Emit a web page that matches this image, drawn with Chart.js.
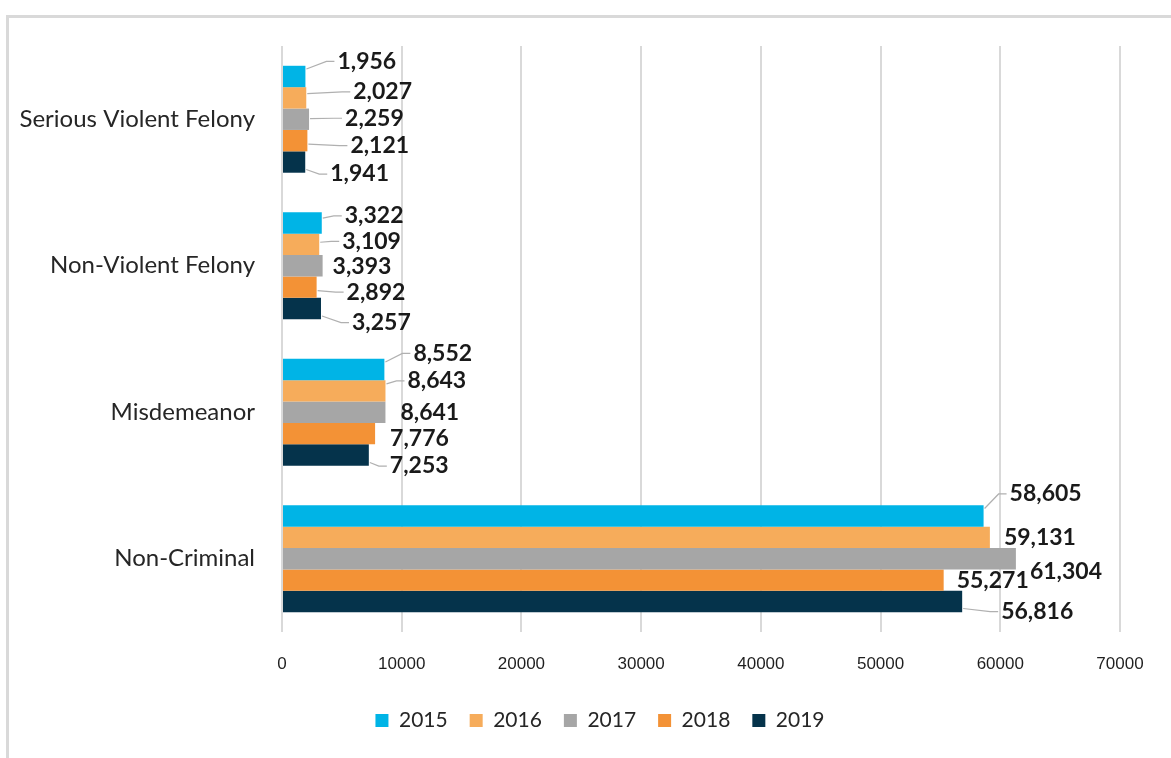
<!DOCTYPE html>
<html lang="en">
<head>
    <meta charset="UTF-8" />
    <title>Offenses by Type, 2015-2019</title>
    <style>
        html, body {
            margin: 0;
            padding: 0;
            background: #ffffff;
        }
        #chart-container {
            width: 1171px;
            height: 758px;
        }
    </style>
    <script src="https://cdn.jsdelivr.net/npm/chart.js"></script>
</head>
<body>
<div id="chart-container">
    <canvas id="offenseChart" width="1171" height="758"></canvas>
</div>

<script>
  const categories = ["Serious Violent Felony", "Non-Violent Felony", "Misdemeanor", "Non-Criminal"];
  const years = ["2015", "2016", "2017", "2018", "2019"];
  const values2015 = [1956, 3322, 8552, 58605];
  const values2016 = [2027, 3109, 8643, 59131];
  const values2017 = [2259, 3393, 8641, 61304];
  const values2018 = [2121, 2892, 7776, 55271];
  const values2019 = [1941, 3257, 7253, 56816];
  const xTicks = [0, 10000, 20000, 30000, 40000, 50000, 60000, 70000];

  const seriesValues = [values2015, values2016, values2017, values2018, values2019];
  const colors = ["#00B4E6", "#F6AC5B", "#A6A6A6", "#F39236", "#05334B"];

  // label nudges [dx, dy] per series / category, like the hand-placed labels in the original
  const labelNudge = [
    [[32, -15], [23, -7], [29, -16], [26, -22]],
    [[47, -6], [23, -3], [22, -10], [14, 0]],
    [[36, -1], [10, 1], [15, 0], [14, 13]],
    [[43, 5], [30, 5], [15, 5], [13, 0]],
    [[25, 12], [31, 14], [21, 11], [39, 10]],
  ];

  function formatNumber(num) {
    return Math.round(num).toLocaleString("en-US");
  }

  const framePlugin = {
    id: "frame",
    beforeDraw(chart) {
      const c = chart.ctx;
      c.save();
      c.fillStyle = "#d9d9d9";
      c.fillRect(6, 15, 3, chart.height - 15);
      c.fillRect(6, 15, chart.width - 6, 3);
      c.restore();
    },
  };

  // legend sits a bit left of the plot centre in the original
  const legendShift = {
    id: "legendShift",
    afterLayout(chart) {
      chart.legend.left += 35;
      chart.legend.right += 35;
    },
  };

  const labelPlugin = {
    id: "barLabels",
    afterDatasetsDraw(chart) {
      const c = chart.ctx;
      c.save();
      c.font = "bold 23px Lato, 'Open Sans', sans-serif";
      c.textBaseline = "middle";
      c.textAlign = "left";
      chart.data.datasets.forEach((ds, i) => {
        const meta = chart.getDatasetMeta(i);
        meta.data.forEach((bar, j) => {
          const [dx, dy] = labelNudge[i][j];
          const lx = bar.x + dx;
          const ly = bar.y + dy;
          if (dx >= 20) {
            const half = bar.height / 2;
            const sy = bar.y + Math.max(-half, Math.min(half, dy)) * 0.7;
            c.strokeStyle = "#b0b0b0";
            c.lineWidth = 1.2;
            c.beginPath();
            c.moveTo(bar.x + 1, sy);
            c.lineTo(lx - 11, ly);
            c.lineTo(lx - 3, ly);
            c.stroke();
          }
          c.fillStyle = "#1a1a1a";
          c.fillText(formatNumber(ds.data[j]), lx, ly);
        });
      });
      c.restore();
    },
  };

  const ctx = document.getElementById("offenseChart").getContext("2d");
  new Chart(ctx, {
    type: "bar",
    data: {
      labels: categories,
      datasets: years.map((y, i) => ({
        label: y,
        data: seriesValues[i],
        backgroundColor: colors[i],
        borderWidth: 0,
        categoryPercentage: 0.73,
        barPercentage: 1.0,
      })),
    },
    plugins: [framePlugin, legendShift, labelPlugin],
    options: {
      indexAxis: "y",
      responsive: false,
      animation: false,
      devicePixelRatio: 1,
      layout: {
        padding: { top: 46, right: 51, bottom: 17, left: 10 },
      },
      scales: {
        x: {
          min: 0,
          max: 70000,
          afterBuildTicks: (scale) => {
            scale.ticks = xTicks.map((v) => ({ value: v }));
          },
          afterFit: (scale) => {
            scale.height = 56;
          },
          grid: {
            color: "#d9d9d9",
            lineWidth: 2,
            drawTicks: false,
          },
          border: { display: false },
          ticks: {
            padding: 22,
            color: "#1f1f1f",
            font: { family: "'Liberation Sans Narrow', 'Liberation Sans', sans-serif", size: 17 },
            callback: (value) => String(value),
          },
        },
        y: {
          grid: { display: false, drawTicks: false },
          border: { display: false },
          afterFit: (scale) => {
            scale.width = 272;
          },
          ticks: {
            padding: 27,
            color: "#262626",
            font: { family: "Lato, 'Open Sans', sans-serif", size: 24 },
          },
        },
      },
      plugins: {
        legend: {
          position: "bottom",
          labels: {
            boxWidth: 13,
            boxHeight: 13,
            padding: 22,
            color: "#262626",
            font: { family: "Lato, 'Open Sans', sans-serif", size: 21 },
          },
        },
        tooltip: { enabled: false },
      },
    },
  });
</script>
</body>
</html>
